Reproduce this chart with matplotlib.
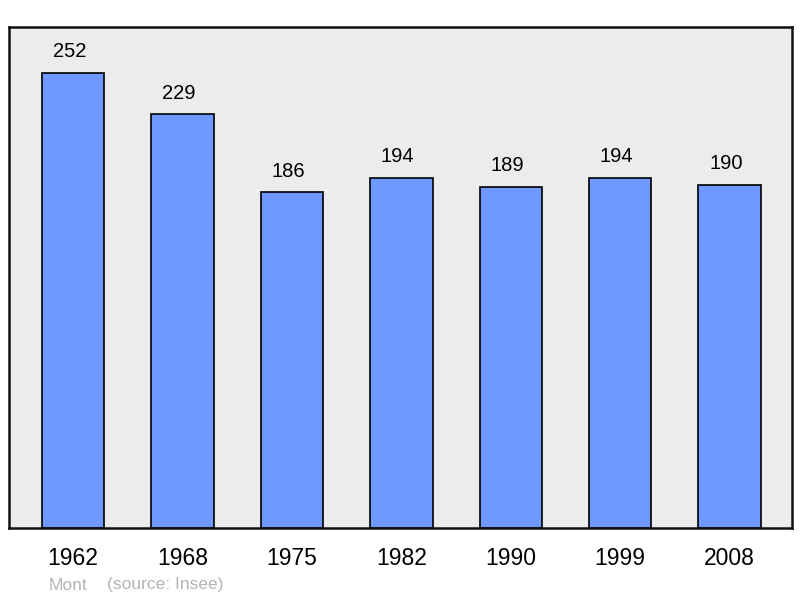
import matplotlib
matplotlib.use("Agg")
import matplotlib.pyplot as plt

years = ["1962", "1968", "1975", "1982", "1990", "1999", "2008"]
population = [252, 229, 186, 194, 189, 194, 190]
commune = "Mont"
source = "(source: Insee)"

plt.rcParams['font.family'] = ['Liberation Sans', 'DejaVu Sans']

fig = plt.figure(figsize=(8.0, 5.98), dpi=100)
ax = fig.add_axes([9/800, 1 - 528/598, 783/800, 501/598])
ax.set_facecolor("#ececec")

xpos = list(range(len(years)))
ax.bar(xpos, population, width=0.57, color="#7099ff", edgecolor="black", linewidth=1.2, zorder=2)
for x, v in zip(xpos, population):
  ax.text(x - 0.035, v + 6.3, str(v), ha="center", va="bottom", fontsize=14.5, color="black")

ax.set_xlim(-0.585, 6.57)
ax.set_ylim(0, 277.4)
ax.set_yticks([])
ax.set_xticks(xpos)
ax.set_xticklabels(years, fontsize=16.5)
ax.tick_params(axis="x", length=0, pad=14)
for sp in ax.spines.values():
  sp.set_linewidth(1.8)
  sp.set_color("#111111")

fig.text(49/800, 1 - 585/598, commune, fontsize=12.5, color="#b4b4b4", va="center", ha="left")
fig.text(107/800, 1 - 585/598, source, fontsize=12.5, color="#b4b4b4", va="center", ha="left")

fig.savefig("out.png", dpi=100)
